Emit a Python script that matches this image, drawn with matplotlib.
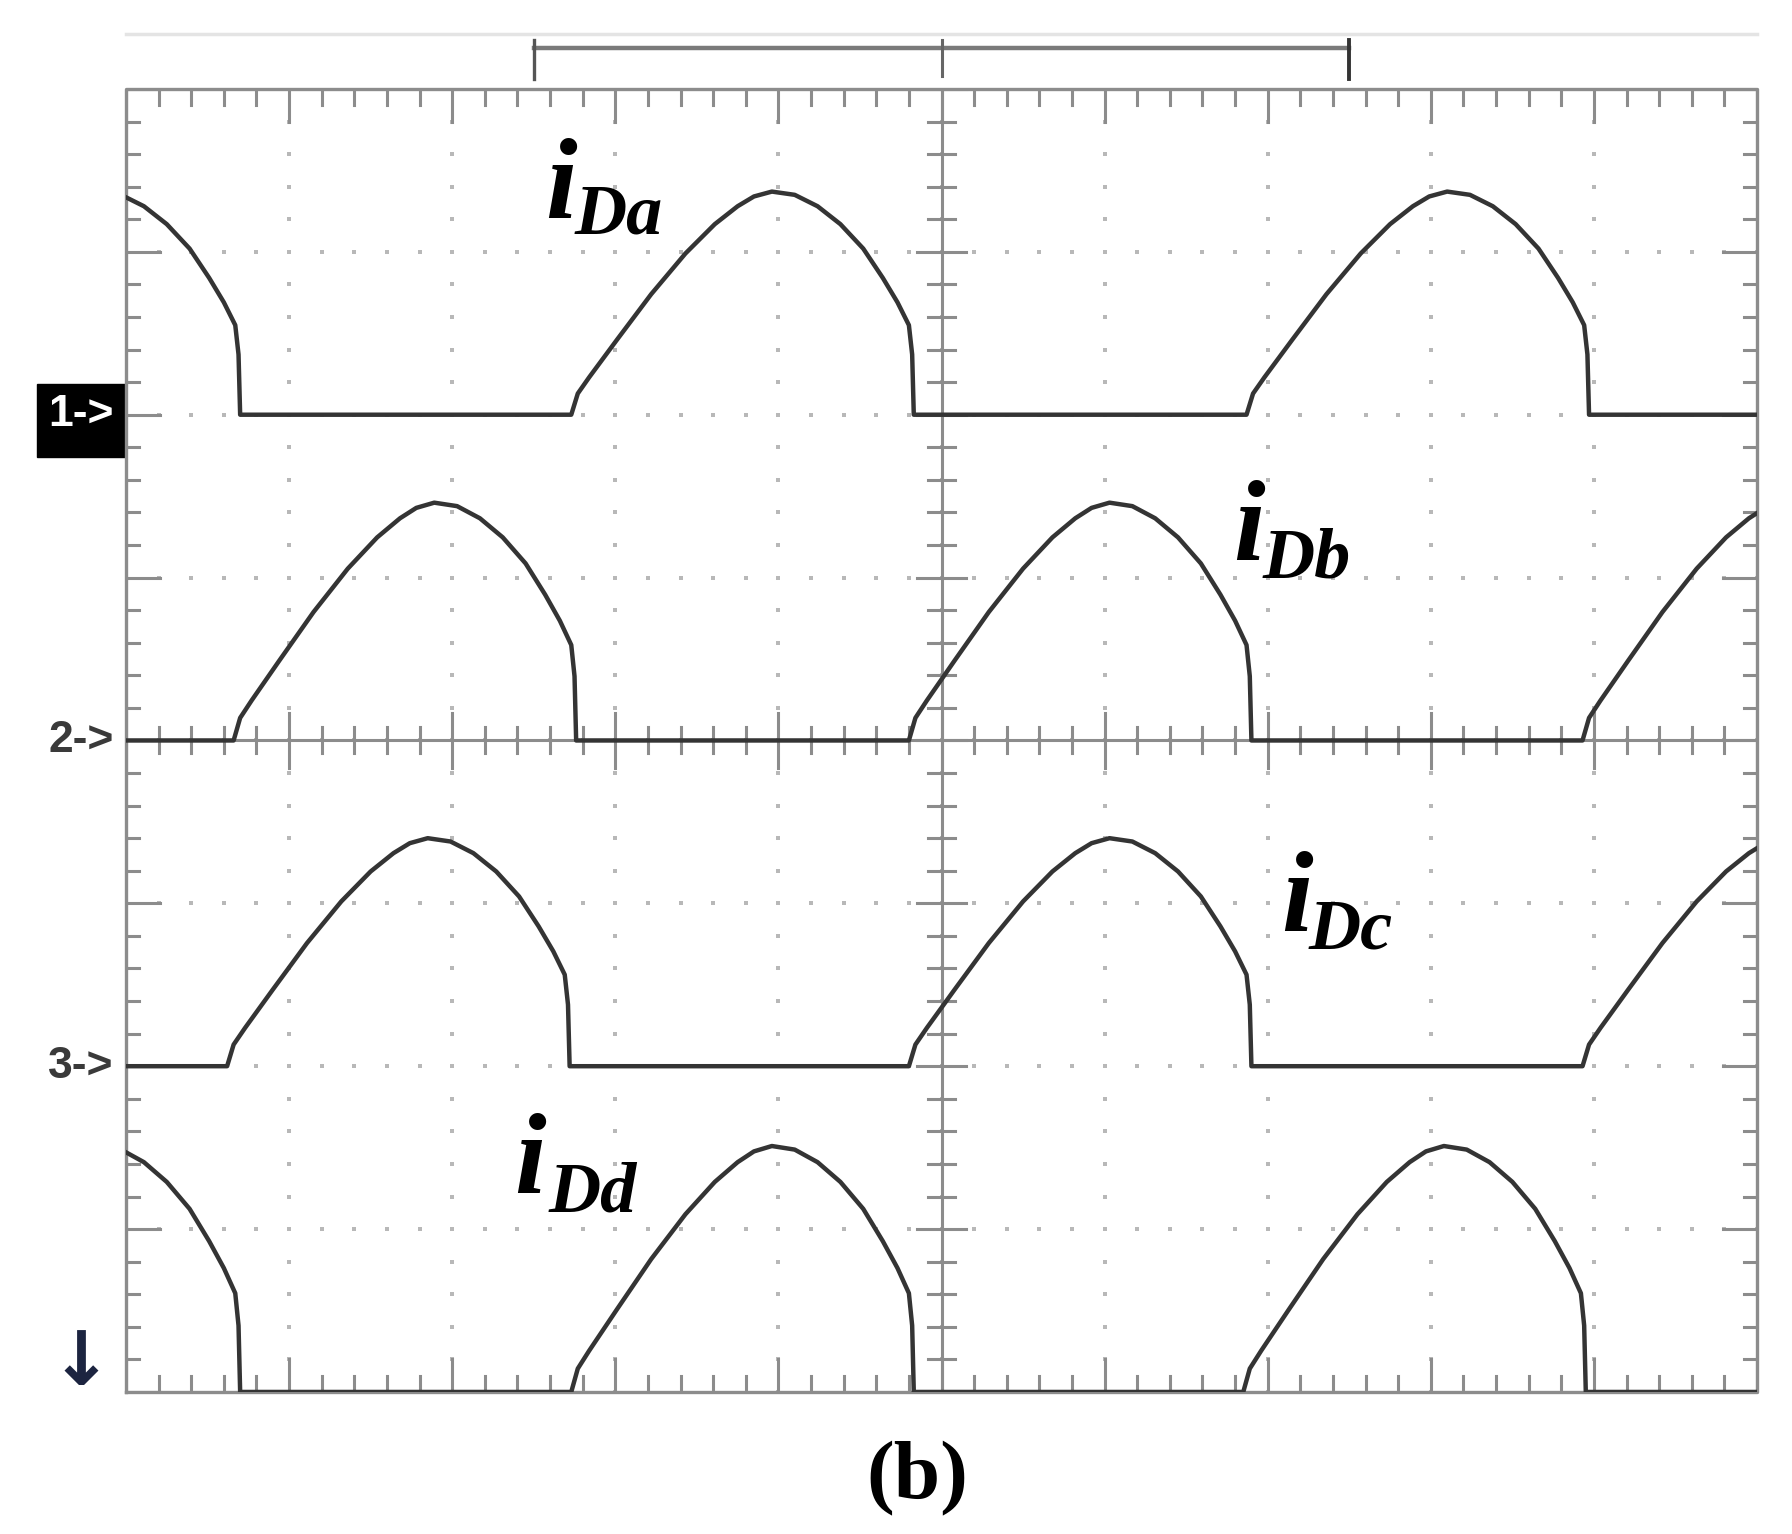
import numpy as np
import matplotlib
matplotlib.use("Agg")
import matplotlib.pyplot as plt

# one diode-current pulse (divisions after pulse start, divisions above baseline)
pulse_t = [0, 0.04, 0.11, 0.28, 0.49, 0.70, 0.88, 1.02, 1.12, 1.23, 1.37, 1.51,
           1.65, 1.79, 1.91, 2.00, 2.07, 2.09, 2.10]
pulse_v = [0, 0.13, 0.23, 0.46, 0.74, 0.99, 1.17, 1.28, 1.34, 1.37, 1.35, 1.28,
           1.17, 1.02, 0.84, 0.69, 0.55, 0.37, 0]

# channel baselines (div), peak heights (div) and pulse start times (div)
ch_names = ["Da", "Db", "Dc", "Dd"]
ch_base = [6, 4, 2, 0]
ch_peak = [1.37, 1.46, 1.40, 1.51]
ch_starts = [
    [-1.40, 2.73, 6.87],
    [0.66, 4.80, 8.93],
    [0.62, 4.80, 8.93],
    [-1.40, 2.73, 6.85],
]

# label positions: (x, baseline y) of "i" and of subscript
lab_i = [(2.57, 7.21), (6.79, 5.11), (7.08, 2.83), (2.38, 1.22)]
lab_sub = [(2.75, 7.11), (6.97, 5.00), (7.25, 2.72), (2.59, 1.11)]

frame_c = "#8c8c8c"
trace_c = "#343434"
dot_c = "#b8b8b8"

fig = plt.figure(figsize=(17.92, 15.34), dpi=100)
ax = fig.add_axes([0.0703, 0.0926, 0.9102, 0.8494])
ax.set_xlim(0, 10)
ax.set_ylim(0, 8)
ax.axis("off")

# dotted graticule
fine_x = np.arange(0, 10.01, 0.2)
fine_y = np.arange(0, 8.01, 0.2)
for gx in range(1, 10):
    ax.plot(np.full_like(fine_y, gx), fine_y, ls="none", marker="s", ms=2.6, color=dot_c, mew=0)
for gy in range(1, 8):
    ax.plot(fine_x, np.full_like(fine_x, gy), ls="none", marker="s", ms=2.6, color=dot_c, mew=0)

# frame and centre cross
ax.plot([0, 10, 10, 0, 0], [0, 0, 8, 8, 0], color=frame_c, lw=2.4, clip_on=False)
ax.plot([5, 5], [0, 8], color=frame_c, lw=2.2)
ax.plot([0, 10], [4, 4], color=frame_c, lw=2.2)

for i, t in enumerate(fine_x):
    big = i % 5 == 0
    tick = 0.20 if big else 0.10
    ax.plot([t, t], [8, 8 - tick], color=frame_c, lw=2.2)
    ax.plot([t, t], [0, tick], color=frame_c, lw=2.2)
    h = 0.17 if big else 0.08
    ax.plot([t, t], [4 - h, 4 + h], color=frame_c, lw=2.2)
for i, t in enumerate(fine_y):
    big = i % 5 == 0
    w = 0.21 if big else 0.08
    ax.plot([0, w], [t, t], color=frame_c, lw=2.2)
    ax.plot([10, 10 - w], [t, t], color=frame_c, lw=2.2)
    h = 0.15 if big else 0.08
    ax.plot([5 - h, 5 + h], [t, t], color=frame_c, lw=2.2)

# traces
for base, peak, starts in zip(ch_base, ch_peak, ch_starts):
    xs = [-3.0]
    ys = [base]
    for s in starts:
        xs += [s + t for t in pulse_t]
        ys += [base + v * peak / 1.37 for v in pulse_v]
    xs.append(13.0)
    ys.append(base)
    ax.plot(xs, ys, color=trace_c, lw=3.2, solid_joinstyle="round")

# channel labels
serif = ["Liberation Serif", "DejaVu Serif"]
for name, (xi, yi), (xs_, ys_) in zip(ch_names, lab_i, lab_sub):
    ax.text(xi, yi, "i", fontsize=82, fontweight="bold", fontstyle="italic",
            family=serif, va="baseline", ha="left")
    ax.text(xs_, ys_, name, fontsize=52, fontweight="bold", fontstyle="italic",
            family=serif, va="baseline", ha="left")

# channel markers on the left
ax.add_patch(plt.Rectangle((-0.546, 5.74), 0.546, 0.45, color="black", clip_on=False))
ax.text(-0.275, 6.0, "1->", color="white", fontsize=32, fontweight="bold",
        family="Liberation Sans", ha="center", va="center", clip_on=False)
ax.text(-0.275, 4.0, "2->", color="#3a3a3a", fontsize=32, fontweight="bold",
        family="Liberation Sans", ha="center", va="center", clip_on=False)
ax.text(-0.275, 2.0, "3->", color="#3a3a3a", fontsize=32, fontweight="bold",
        family="Liberation Sans", ha="center", va="center", clip_on=False)
ax.text(-0.276, 0.17, "\u2193", color="#1c2440", fontsize=54, fontweight="bold",
        family="DejaVu Sans", ha="center", va="center", clip_on=False)

# time-base bracket above the screen
ax.plot([0, 10], [8.34, 8.34], color="#e4e4e4", lw=2.5, clip_on=False)
ax.plot([2.5, 7.5], [8.25, 8.25], color="#7a7a7a", lw=3.2, clip_on=False)
ax.plot([2.5, 2.5], [8.06, 8.30], color="#555555", lw=2.4, clip_on=False)
ax.plot([7.5, 7.5], [8.06, 8.30], color="#333333", lw=2.8, clip_on=False)
ax.plot([5, 5], [8.08, 8.30], color="#666666", lw=2.2, clip_on=False)

fig.text(0.512, 0.036, "(b)", fontsize=60, fontweight="bold", family=serif,
         ha="center", va="center")

fig.savefig("out.png", dpi=100)
